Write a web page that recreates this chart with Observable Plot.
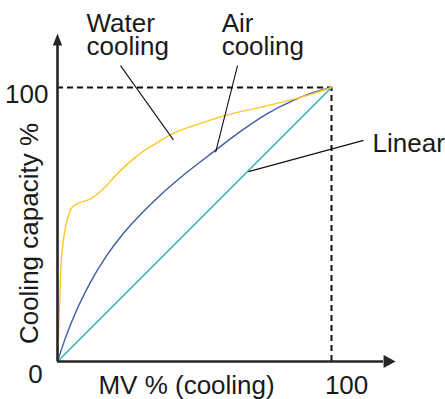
<!DOCTYPE html>
<html>
<head>
<meta charset="utf-8">
<script src="https://cdn.jsdelivr.net/npm/d3@7"></script>
<script src="https://cdn.jsdelivr.net/npm/@observablehq/plot@0.6"></script>
<style>
  html, body { margin: 0; padding: 0; background: #fff; }
  #chart svg { display: block; font-family: "Liberation Sans", Arial, Helvetica, sans-serif; }
</style>
</head>
<body>
<div id="chart"></div>
<script>
// MV % (cooling) vs cooling capacity %
const waterX = [0, 0.4, 0.8, 1.7, 3.5, 5.4, 8.4, 11.3, 13.9, 17.5, 21.2, 24.8, 28.5, 32, 35.8, 43.1, 52.2, 62, 76.6, 88.7, 100];
const waterY = [0, 10, 22, 40.5, 51.5, 56.3, 58.1, 59, 60.6, 63.8, 67.9, 71.4, 74.6, 77.2, 79.5, 83.7, 86.9, 90, 93.4, 96.4, 100];
const airX = [0, 3, 7, 12, 18, 24, 31, 37.6, 46.7, 56.9, 66.8, 76.6, 86.1, 93.4, 100];
const airY = [0, 8.9, 18.8, 28.9, 38.7, 46.7, 54.4, 60.8, 68.6, 76.5, 84, 90.5, 95.3, 98.2, 100];
const linearX = [0, 100];
const linearY = [0, 100];

const labelLines = [["Water", "cooling"], ["Air", "cooling"], ["Linear"]];
const colors = ["#fdc624", "#3d5aa8", "#1db3ad"];
const axisLabels = { x: "MV % (cooling)", y: "Cooling capacity %" };
const tickLabels = ["0", "100"];

const toRows = (xs, ys) => xs.map((x, i) => ({x, y: ys[i]}));
const water = toRows(waterX, waterY);
const air = toRows(airX, airY);
const linear = toRows(linearX, linearY);

const ink = "#262626";
const txt = "#1a1a1a";
const fs = 26;
const font = "'Liberation Sans', Arial, Helvetica, sans-serif";

// axis arrows (in data units of the frame)
const yTop = 115.3, yTip = 119.7, xEnd = 119, xTip = 123.4;
const yArrow = [{x: -1.7, y: yTop}, {x: 0, y: yTip}, {x: 1.7, y: yTop}];
const xArrow = [{x: xEnd, y: -2.4}, {x: xTip, y: 0}, {x: xEnd, y: 2.4}];

const leaders = [
  {x1: 23, y1: 108, x2: 42.3, y2: 80.9},
  {x1: 65.7, y1: 108, x2: 57.7, y2: 76.3},
  {x1: 111.7, y1: 80.7, x2: 69.7, y2: 69.3}
];

const label = (s, x, y, opts = {}) =>
  Plot.text([s], {x, y, text: d => d, fontSize: fs, fill: txt, ...opts});

const chart = Plot.plot({
  width: 445,
  height: 399,
  marginLeft: 57,
  marginRight: 114,
  marginTop: 87,
  marginBottom: 38,
  x: {domain: [0, 100], axis: null},
  y: {domain: [0, 100], axis: null},
  style: {fontFamily: font, background: "#fff"},
  marks: [
    // dashed 100% guides
    Plot.ruleY([100], {x1: 0, x2: 100, stroke: "#111", strokeWidth: 2, strokeDasharray: "6,4"}),
    Plot.ruleX([100], {y1: 0, y2: 100, stroke: "#111", strokeWidth: 2, strokeDasharray: "6,4"}),
    // curves
    Plot.line(linear, {x: "x", y: "y", stroke: colors[2], strokeWidth: 1.4}),
    Plot.line(air, {x: "x", y: "y", stroke: colors[1], strokeWidth: 1.4, curve: "monotone-x"}),
    Plot.line(water, {x: "x", y: "y", stroke: colors[0], strokeWidth: 1.4, curve: "catmull-rom"}),
    // axes
    Plot.ruleX([0], {y1: 0, y2: yTop, stroke: ink, strokeWidth: 2.6}),
    Plot.ruleY([0], {x1: 0, x2: xEnd, stroke: ink, strokeWidth: 2.6}),
    Plot.line(yArrow, {x: "x", y: "y", fill: ink, stroke: "none"}),
    Plot.line(xArrow, {x: "x", y: "y", fill: ink, stroke: "none"}),
    // leader lines
    Plot.link(leaders, {x1: "x1", y1: "y1", x2: "x2", y2: "y2", stroke: "#111", strokeWidth: 1.1}),
    // series labels (baselines at 31px and 55px from top)
    label(labelLines[0][0], 10.6, 120.4, {textAnchor: "start", lineAnchor: "bottom"}),
    label(labelLines[0][1], 10.6, 111.7, {textAnchor: "start", lineAnchor: "bottom"}),
    label(labelLines[1][0], 59.9, 120.4, {textAnchor: "start", lineAnchor: "bottom"}),
    label(labelLines[1][1], 59.9, 111.7, {textAnchor: "start", lineAnchor: "bottom"}),
    label(labelLines[2][0], 115, 76.3, {textAnchor: "start", lineAnchor: "bottom"}),
    // tick labels
    label(tickLabels[1], -3.3, 94.5, {textAnchor: "end", lineAnchor: "bottom"}),
    label(tickLabels[0], -8, -8.0, {textAnchor: "middle", lineAnchor: "bottom"}),
    label(tickLabels[1], 105.5, -11.7, {textAnchor: "middle", lineAnchor: "bottom"}),
    // axis titles
    label(axisLabels.x, 47.1, -11.7, {textAnchor: "middle", lineAnchor: "bottom"}),
    label(axisLabels.y, -10.3, 46.7, {rotate: -90, textAnchor: "middle", lineAnchor: "middle"})
  ]
});
document.getElementById("chart").appendChild(chart);
</script>
</body>
</html>
